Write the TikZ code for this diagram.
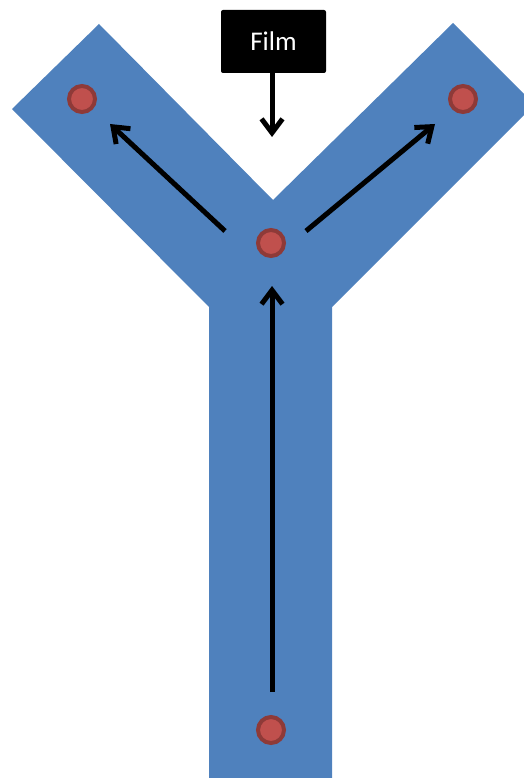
\documentclass[tikz,border=0pt]{standalone}
\usepackage{fontspec}
\setmainfont{Carlito}
\usetikzlibrary{arrows.meta}
\definecolor{yblue}{HTML}{4F81BD}
\definecolor{dotfill}{HTML}{C0504D}
\definecolor{dotedge}{HTML}{8E3A38}
\begin{document}
\begin{tikzpicture}[x=1pt,y=-1pt,
  dot/.style={circle,fill=dotfill,draw=dotedge,line width=4pt,minimum size=26pt,inner sep=0pt},
  flow/.style={line width=5pt,-{Straight Barb[length=14pt,width=21pt,line width=5pt]}},
  filmbox/.style={fill=black,rounded corners=2pt,minimum width=105pt,minimum height=63pt,inner sep=0pt,text=white,font=\fontsize{27}{30}\selectfont}]
\useasboundingbox (0,0) rectangle (524,778);
\begin{scope}
\clip (0,0) rectangle (524,778);
\fill[yblue] (209,778) -- (209,307) -- (12,109) -- (99,24) -- (273,200) -- (453,23) -- (534.5,104.5) -- (332,307) -- (332,778) -- cycle;
\end{scope}
\node[dot] (dl) at (82,99) {};
\node[dot] (dr) at (463,99) {};
\node[dot] (dc) at (271,243) {};
\node[dot] (db) at (271,730) {};
\node[filmbox] (film) at (273.5,41.5) {Film};
\coordinate (filmtip) at (272,137);
\coordinate (ups) at (272,692);
\coordinate (upe) at (272,286);
\coordinate (ls) at (225,231);
\coordinate (le) at (110,124);
\coordinate (rs) at (306,231);
\coordinate (re) at (435,124);
\draw[flow] (film.south -| filmtip) -- (filmtip);
\draw[flow] (ups) -- (upe);
\draw[flow] (ls) -- (le);
\draw[flow] (rs) -- (re);
\end{tikzpicture}
\end{document}
